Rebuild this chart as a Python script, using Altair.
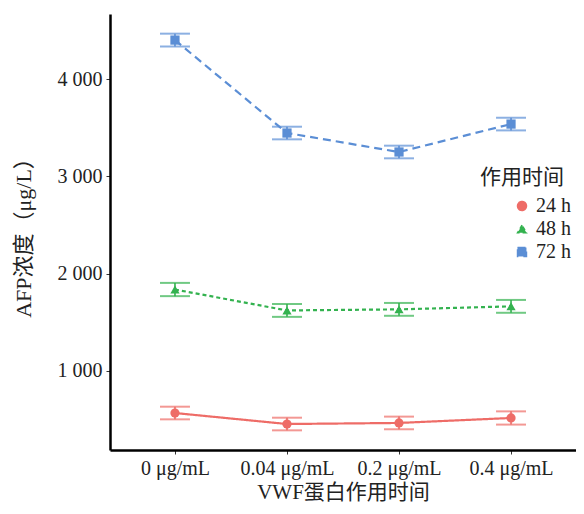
import altair as alt
import pandas as pd

conc = ["0 μg/mL", "0.04 μg/mL", "0.2 μg/mL", "0.4 μg/mL"]
groups = ["24 h", "48 h", "72 h"]
afp_24 = [568, 455, 466, 517]
afp_48 = [1837, 1622, 1633, 1664]
afp_72 = [4400, 3445, 3250, 3537]
err_24 = [65, 65, 65, 68]
err_48 = [68, 66, 66, 66]
err_72 = [66, 65, 65, 65]
colors = ["#EE6C67", "#33B24F", "#5B8ED5"]
dashes = [[1, 0], [4, 3], [8, 5]]

rows = []
for g, vals, errs in zip(groups, [afp_24, afp_48, afp_72], [err_24, err_48, err_72]):
    for c, v, e in zip(conc, vals, errs):
        rows.append({"conc": c, "group": g, "afp": v, "lo": v - e, "hi": v + e})
df = pd.DataFrame(rows)

FONT = "Liberation Serif, Noto Sans CJK SC"

x = alt.X("conc:N", sort=conc, title="VWF蛋白作用时间",
          scale=alt.Scale(type="point", padding=0.58),
          axis=alt.Axis(labelAngle=0, labelFontSize=20, titleFontSize=21,
                        labelPadding=4, titlePadding=3, tickSize=4,
                        domainWidth=2.5, domainColor="black", tickColor="#333",
                        labelColor="#222", titleColor="#222",
                        titleFontWeight="normal",
                        labelFont=FONT, titleFont=FONT, grid=False))
y_scale = alt.Scale(domain=[188, 4668], nice=False, zero=False)
y = alt.Y("afp:Q", scale=y_scale, title="AFP浓度（μg/L）",
          axis=alt.Axis(values=[1000, 2000, 3000, 4000],
                        labelExpr="replace(format(datum.value, ','), ',', ' ')",
                        labelFontSize=20, titleFontSize=22, labelPadding=4,
                        titlePadding=22, tickSize=4, domainWidth=2.5,
                        domainColor="black", tickColor="#333",
                        labelColor="#222", titleColor="#222",
                        titleFontWeight="normal",
                        labelFont=FONT, titleFont=FONT, grid=False))
color = alt.Color("group:N", scale=alt.Scale(domain=groups, range=colors),
                  legend=alt.Legend(title="作用时间", orient="none",
                                    legendX=370, legendY=153,
                                    titleFontSize=21, labelFontSize=20,
                                    titleFont=FONT, labelFont=FONT,
                                    titleFontWeight="normal",
                                    titleColor="#222", labelColor="#222",
                                    symbolOffset=32, symbolSize=80,
                                    symbolOpacity=1,
                                    titlePadding=8, rowPadding=3,
                                    labelOffset=4))
shape = alt.Shape("group:N", scale=alt.Scale(domain=groups,
                  range=["circle", "triangle-up", "square"]),
                  legend=None)
dash = alt.StrokeDash("group:N", scale=alt.Scale(domain=groups, range=dashes), legend=None)

lines = alt.Chart(df).mark_line(strokeWidth=2.2).encode(
    x=x, y=y, color=color, strokeDash=dash,
)
rules = alt.Chart(df).mark_rule(strokeWidth=1.6).encode(
    x=x, y=alt.Y("lo:Q", scale=y_scale), y2="hi:Q", color=color,
)
caps_lo = alt.Chart(df).mark_tick(size=30, thickness=2, orient="horizontal").encode(
    x=x, y=alt.Y("lo:Q", scale=y_scale), color=color,
)
caps_hi = alt.Chart(df).mark_tick(size=30, thickness=2, orient="horizontal").encode(
    x=x, y=alt.Y("hi:Q", scale=y_scale), color=color,
)
points = alt.Chart(df).mark_point(filled=True, size=85, opacity=1).encode(
    x=x, y=y, color=color, shape=shape,
)

chart = alt.layer(lines, rules, caps_lo, caps_hi, points).properties(
    width=466, height=436,
    autosize=alt.AutoSizeParams(type="none"),
    padding={"left": 102, "top": 6, "right": 0, "bottom": 55},
).configure(font=FONT).configure_view(strokeWidth=0)

chart.save("out.html", embed_options={"renderer": "svg", "actions": False})
